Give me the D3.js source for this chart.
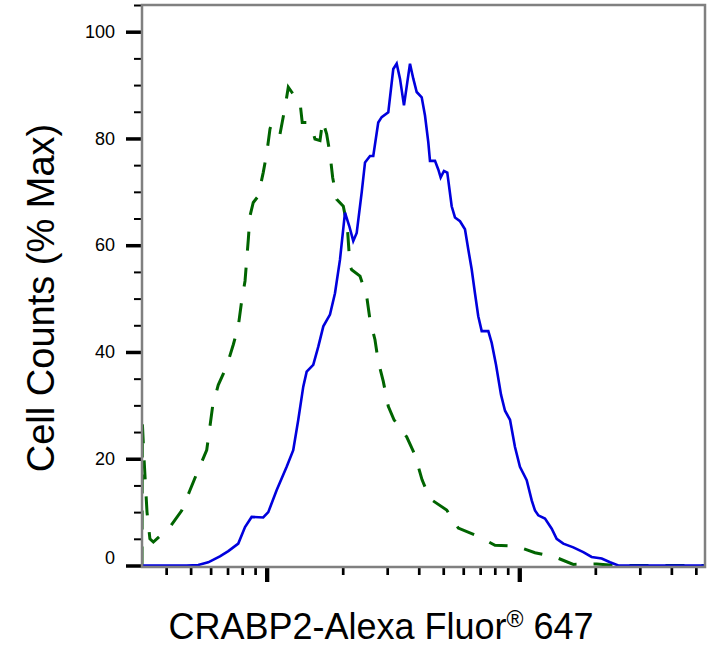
<!DOCTYPE html>
<html>
<head>
<meta charset="utf-8">
<script src="https://cdn.jsdelivr.net/npm/d3@7"></script>
<style>
  body { margin: 0; background: #fff; }
  svg { display: block; font-family: "Liberation Sans", Arial, sans-serif; }
</style>
</head>
<body>
<svg id="chart" width="725" height="665"></svg>
<script>
// fluorescence intensity (x) and % of max (y)
const controlX = [32.1, 32.2, 32.7, 33.6, 34.5, 35.6, 41.4, 46.1, 49.7, 53.6, 57.9, 59.6, 61.1, 64.3,
    69.4, 73.8, 77.2, 79.6, 82.1, 84.6, 85.9, 88.5, 92.6, 96.9, 100, 103.1, 104.7, 107.9, 112.9,
    118.2, 121.8, 125.6, 131.5, 135.5, 138.3, 146.1, 150.7, 155.3, 162.6, 166.6, 172.8, 178.1,
    182.5, 189.3, 201.1, 208.5, 213.7, 217, 234.2, 248.9, 256.5, 268.4, 276.5, 289.5, 303, 319.2,
    358.3, 386.5, 412, 443.1, 516, 573.6, 678.3, 801.5, 976.5, 1154, 1384, 1636, 2025, 2430, 5435];
const controlY = [0, 26.7, 20, 10, 5, 4.4, 7.2, 10.3, 14.1, 17.9, 21.6, 26, 29.8, 33.8,
    37.3, 41.4, 44.8, 49.5, 53.3, 61.1, 65.5, 68, 69.2, 73.6, 77.1, 81.8, 82.7, 81.4, 80.8,
    85.8, 89.6, 88.7, 87.4, 86.8, 83, 83, 82.1, 79.9, 79.6, 83.3, 80.8, 77.1,
    72.7, 68.6, 67.3, 63.6, 56.1, 55.4, 54.2, 50.4, 46, 42.3, 38.2, 34.5, 29.8, 27.3,
    24.1, 20.7, 16.1, 12.5, 10.4, 7, 5.6, 3.8, 3.6, 2.4, 1.6, 0.2, 0.3, 0, 0];

const stainedX = [32.1, 48.2, 53.6, 58.7, 65.3, 70.5, 77.2, 82.1, 87.2, 96.9, 101.5, 109.5, 120,
    127.4, 133.4, 139.6, 144, 152.9, 160.1, 167.6, 178.1, 186.4, 195.1, 204.2, 212.3, 220.2,
    227.2, 237.8, 245.1, 256.5, 264.2, 276.5, 285.3, 303, 317.1, 327.1, 337.1, 349.6, 360.3,
    369.3, 380.6, 392.6, 410.9, 423.4, 436.3, 443.1, 463.8, 477.9, 488.5, 503.4, 518.8, 540,
    556.5, 582.5, 609.6, 628.3, 648, 667.7, 688.1, 710, 754, 777.7, 808.9, 846.6, 878, 919,
    961.6, 1006, 1070, 1120, 1154, 1189, 1264, 1344, 1406, 1494, 1636, 1792, 1934, 2120, 2287,
    2466, 5435];
const stainedY = [0, 0, 0.1, 0.6, 1.7, 2.7, 4.1, 7.2, 9.1, 9, 10, 14.1, 18.5,
    21.6, 27.3, 33.5, 36.3, 37.6, 41, 44.8, 47, 51, 57.3, 66.1, 63.6, 60.8,
    62.3, 69.9, 75.5, 76.7, 76.7, 83, 84, 84.9, 93, 94, 91.2, 86.2, 90.5,
    94, 91.2, 88.7, 87.7, 84.3, 79.3, 75.8, 75.8, 74.2, 72.7, 73.9, 73.6, 67.3,
    65.2, 64.5, 63, 59.2, 55.5, 51, 46.7, 43.9, 43.9, 41.7, 37.6, 32, 29, 27.3,
    22.2, 18.5, 16, 12.2, 10.3, 9.4, 8.8, 6.9, 5, 4.1, 3.4, 2.5, 1.6, 1.3, 0.6,
    0, 0];

const yMajor = [0, 20, 40, 60, 80, 100];
const yMinor = [5, 10, 15, 25, 30, 35, 45, 50, 55, 65, 70, 75, 85, 90, 95, 105];
const xMajor = [100, 1000];
const xMinor = [40, 50, 60, 70, 80, 90, 200, 300, 400, 500, 600, 700, 800, 900,
    2000, 3000, 4000, 5000];

const plotLeft = 142, plotRight = 705, plotTop = 5, plotBottom = 567;

const svg = d3.select("#chart");

const x = d3.scaleLog()
    .domain([32.1, 5435])
    .range([plotLeft, plotRight]);
const y = d3.scaleLinear()
    .domain([0, 105])
    .range([565.5, plotTop]);

// y axis ticks
svg.append("g")
    .attr("transform", "translate(" + plotLeft + ",0)")
    .call(d3.axisLeft(y).tickValues(yMinor).tickSize(8).tickFormat(""))
    .call(g => g.select(".domain").remove())
    .call(g => g.selectAll("line").attr("stroke", "#000").attr("stroke-width", 2));

svg.append("g")
    .attr("transform", "translate(" + plotLeft + ",0)")
    .call(d3.axisLeft(y).tickValues(yMajor).tickSize(16).tickPadding(11))
    .call(g => g.select(".domain").remove())
    .call(g => g.selectAll("line").attr("stroke", "#000").attr("stroke-width", 3.5))
    .call(g => g.selectAll("text")
        .attr("fill", "#000")
        .style("font-size", "18px")
        .attr("transform", d => d === 0 ? "translate(0,-8)" : null));

// x axis ticks
svg.append("g")
    .attr("transform", "translate(0," + plotBottom + ")")
    .call(d3.axisBottom(x).tickValues(xMinor).tickSize(8).tickFormat(""))
    .call(g => g.select(".domain").remove())
    .call(g => g.selectAll("line").attr("stroke", "#000").attr("stroke-width", 2.7));

svg.append("g")
    .attr("transform", "translate(0," + plotBottom + ")")
    .call(d3.axisBottom(x).tickValues(xMajor).tickSize(15).tickFormat(""))
    .call(g => g.select(".domain").remove())
    .call(g => g.selectAll("line").attr("stroke", "#000").attr("stroke-width", 4.3));

// curves
svg.append("clipPath").attr("id", "plot")
    .append("rect")
    .attr("x", plotLeft).attr("y", plotTop)
    .attr("width", plotRight - plotLeft).attr("height", plotBottom - plotTop);

const line = d3.line()
    .x(d => x(d[0]))
    .y(d => y(d[1]));

svg.append("path")
    .datum(d3.zip(controlX, controlY))
    .attr("clip-path", "url(#plot)")
    .attr("fill", "none")
    .attr("stroke", "#006400")
    .attr("stroke-width", 3)
    .attr("stroke-dasharray", "19,17")
    .attr("d", line);

svg.append("path")
    .datum(d3.zip(stainedX, stainedY))
    .attr("clip-path", "url(#plot)")
    .attr("fill", "none")
    .attr("stroke", "#0000dd")
    .attr("stroke-width", 2.6)
    .attr("d", line);

// frame
svg.append("rect")
    .attr("x", plotLeft).attr("y", plotTop)
    .attr("width", plotRight - plotLeft).attr("height", plotBottom - plotTop)
    .attr("fill", "none")
    .attr("stroke", "#808080")
    .attr("stroke-width", 2.5);

// titles
svg.append("text")
    .attr("transform", "translate(54,298) rotate(-90)")
    .attr("text-anchor", "middle")
    .style("font-size", "38px")
    .text("Cell Counts (% Max)");

const xt = svg.append("text")
    .attr("x", 381).attr("y", 639)
    .attr("text-anchor", "middle")
    .style("font-size", "36px");
xt.append("tspan").text("CRABP2-Alexa Fluor");
xt.append("tspan").attr("dy", -12).style("font-size", "23px").text("®");
xt.append("tspan").attr("dy", 12).text(" 647");
</script>
</body>
</html>
